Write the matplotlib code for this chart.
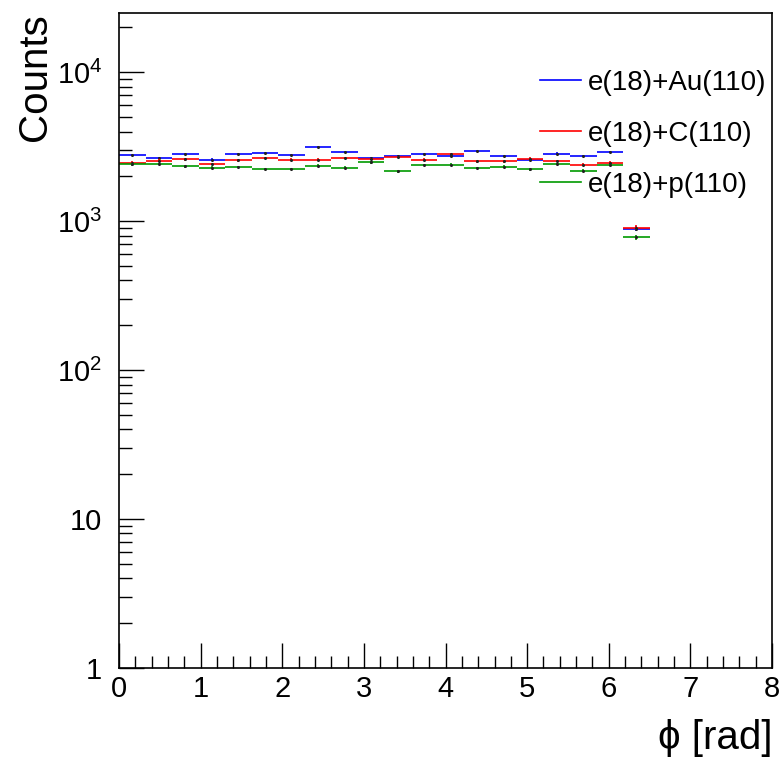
import numpy as np
import matplotlib
matplotlib.use("Agg")
import matplotlib.pyplot as plt
from matplotlib.lines import Line2D

plt.rcParams['font.family'] = ['Liberation Sans', 'DejaVu Sans']
plt.rcParams['mathtext.fontset'] = 'custom'
plt.rcParams['mathtext.rm'] = 'Liberation Sans'

# 20 bins from 0 to 6.5 rad
bin_edges = np.linspace(0, 6.5, 21)

counts_au = [2773, 2660, 2830, 2594, 2830, 2860, 2773, 3155, 2918, 2648,
             2731, 2815, 2761, 2963, 2742, 2594, 2845, 2742, 2918, 893]
counts_c = [2477, 2554, 2606, 2425, 2567, 2660, 2594, 2594, 2648, 2618,
            2690, 2594, 2815, 2528, 2528, 2634, 2541, 2402, 2477, 907]
counts_p = [2414, 2425, 2339, 2291, 2313, 2243, 2243, 2365, 2291, 2489,
            2157, 2388, 2402, 2279, 2327, 2234, 2425, 2189, 2388, 781]

labels = ["e(18)+Au(110)", "e(18)+C(110)", "e(18)+p(110)"]
colors = ["#0000ff", "#ff0000", "#009900"]

fig = plt.figure(figsize=(7.8, 7.66), dpi=100)
ax = fig.add_axes([0.1526, 0.128, 0.8372, 0.855])

centers = 0.5 * (bin_edges[:-1] + bin_edges[1:])
halfw = 0.5 * np.diff(bin_edges)

for vals, col in zip([counts_au, counts_c, counts_p], colors):
    v = np.array(vals, dtype=float)
    ax.errorbar(centers, v, xerr=halfw, yerr=np.sqrt(v), fmt='none',
                ecolor=col, elinewidth=1.2, capsize=0)
    ax.plot(centers, v, ls='none', marker='o', ms=1.2, color='#222222')

ax.set_yscale('log')
ax.set_xlim(0, 8)
ax.set_ylim(1, 2.5e4)

ax.set_yticks([1, 10, 100, 1000, 10000])
ax.set_yticklabels(['1', '10', r'$\mathregular{10^{2}}$',
                    r'$\mathregular{10^{3}}$', r'$\mathregular{10^{4}}$'])
ax.set_xticks(range(0, 9))
ax.set_xticks(np.arange(0, 8.01, 0.2), minor=True)

ax.tick_params(axis='both', which='both', direction='in', top=False, right=False,
               labelsize=21, width=1)
ax.tick_params(axis='both', which='major', length=18)
ax.tick_params(axis='both', which='minor', length=9)
ax.tick_params(axis='y', which='minor', labelleft=False)
ax.tick_params(axis='x', pad=5)
ax.tick_params(axis='y', pad=12)

for s in ax.spines.values():
    s.set_linewidth(1.2)

fig.text(0.045, 0.983, "Counts", rotation=90, ha='center', va='top', fontsize=29)
fig.text(0.991, 0.012, "ϕ [rad]", ha='right', va='bottom', fontsize=29)

handles = [Line2D([0], [0], color=c, lw=1.2) for c in colors]
ax.legend(handles, labels, loc='upper left', bbox_to_anchor=(0.628, 0.93),
          frameon=False, fontsize=20, handlelength=1.45, handletextpad=0.25,
          labelspacing=0.9, borderaxespad=0)

fig.savefig("out.png", dpi=100)
